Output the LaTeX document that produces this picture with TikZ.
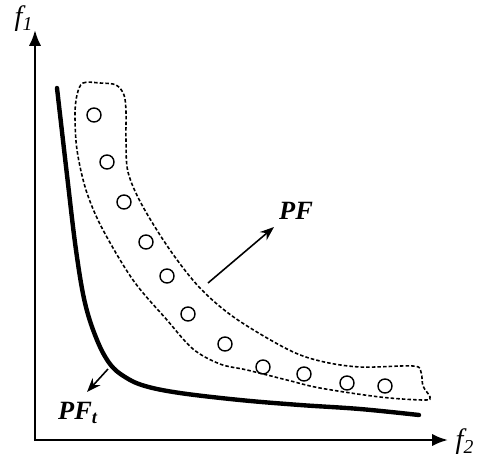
\documentclass[tikz,border=0pt]{standalone}
\usepackage{fontspec}
\setmainfont{Liberation Serif}
\usepackage{tikz}
\usetikzlibrary{arrows.meta,positioning,calc}

\begin{document}
\begin{tikzpicture}[
  x=0.02cm,y=-0.02cm,
  axis/.style={line width=1.4pt,-{Latex[length=9pt,width=7pt]}},
  front/.style={line width=2.5pt,line cap=round},
  region/.style={line width=0.9pt,dash pattern=on 2pt off 1.2pt},
  sol/.style={circle,draw,line width=0.8pt,minimum size=0.28cm,inner sep=0pt},
  tag/.style={line width=0.9pt,-{Stealth[length=8pt,width=6pt]}},
  lab/.style={font=\fontsize{15}{18}\selectfont\bfseries\itshape},
  axlab/.style={font=\fontsize{16}{18}\selectfont\itshape}
]
\useasboundingbox (0,0) rectangle (488,461);

% ---------------- axes ----------------
\coordinate (O) at (35,440);
\coordinate (ytip) at (35,30);
\coordinate (xtip) at (448,440);
\draw[axis] ([yshift=-0.7pt]O) -- (ytip);
\draw[axis] ([xshift=-0.7pt]O) -- (xtip);
\node[axlab] (f1) at (24,19) {f\textsubscript{1}};
\node[axlab] (f2) at (465,442) {f\textsubscript{2}};

% ---------------- dashed region ----------------
\draw[region] plot[smooth cycle,tension=0.55] coordinates {
  (77,95) (83,83) (100,83) (116,85) (124,95) (126,112) (126,140) (128,172)
  (142,205) (170,250) (200,288) (235,318) (287,349) (320,361) (360,367)
  (413,366) (421,372) (423,386) (430,397) (424,400) (380,397) (320,388)
  (287,380) (247,370) (220,364) (193,349) (167,320) (133,280) (102,228)
  (86,190) (77,150) (75,115)};

% ---------------- solutions ----------------
\node[sol] (s1) at (94,115) {};
\node[sol] (s2) at (107,162) {};
\node[sol] (s3) at (124,202) {};
\node[sol] (s4) at (146,242) {};
\node[sol] (s5) at (167,276) {};
\node[sol] (s6) at (188,314) {};
\node[sol] (s7) at (225,344) {};
\node[sol] (s8) at (263,367) {};
\node[sol] (s9) at (304,374) {};
\node[sol] (s10) at (347,383) {};
\node[sol] (s11) at (385,386) {};

% ---------------- true front ----------------
\draw[front] plot[smooth,tension=0.6] coordinates {
  (57,88) (67,175) (76,250) (85,303) (97,340) (110,364) (125,377)
  (145,386) (180,393) (240,400) (300,405) (360,409) (419,415)};

% ---------------- labels ----------------
\node[lab] (PF) at (296,211) {PF};
\coordinate (pfa) at (208,283);
\coordinate (pfb) at (274,227);
\draw[tag] (pfa) -- (pfb);

\node[lab] (PFt) at (78,413) {PF\textsubscript{t}};
\coordinate (pta) at (108,369);
\coordinate (ptb) at (87,392);
\draw[tag] (pta) -- (ptb);

\end{tikzpicture}
\end{document}
